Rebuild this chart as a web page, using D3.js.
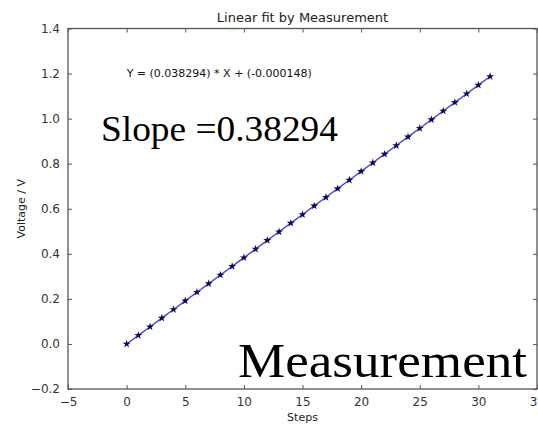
<!DOCTYPE html>
<html>
<head>
<meta charset="utf-8">
<script src="https://cdn.jsdelivr.net/npm/d3@7"></script>
<style>
  html, body { margin: 0; padding: 0; background: #fff; }
  svg { display: block; }
  .tick text { font-family: "DejaVu Sans", sans-serif; font-size: 12px; fill: #333; }
</style>
</head>
<body>
<svg id="chart" width="538" height="426"></svg>
<script>
// Measured voltage per step
const steps = [0, 1, 2, 3, 4, 5, 6, 7, 8, 9, 10, 11, 12, 13, 14, 15,
               16, 17, 18, 19, 20, 21, 22, 23, 24, 25, 26, 27, 28, 29, 30, 31];
const voltages = [-0.0001, 0.0381, 0.0764, 0.1147, 0.1530, 0.1913, 0.2296, 0.2679,
                  0.3062, 0.3445, 0.3828, 0.4211, 0.4594, 0.4977, 0.5360, 0.5743,
                  0.6126, 0.6509, 0.6891, 0.7274, 0.7657, 0.8040, 0.8423, 0.8806,
                  0.9189, 0.9572, 0.9955, 1.0338, 1.0721, 1.1104, 1.1487, 1.1870];
const xTicks = [-5, 0, 5, 10, 15, 20, 25, 30, 35];
const yTicks = [-0.2, 0.0, 0.2, 0.4, 0.6, 0.8, 1.0, 1.2, 1.4];
const title = "Linear fit by Measurement";
const equation = "Y = (0.038294) * X + (-0.000148)";
const slopeLabel = "Slope =0.38294";
const bigLabel = "Measurement";

const svg = d3.select("#chart");
const plotLeft = 68, plotRight = 537, plotTop = 28.5, plotBottom = 389;

const x = d3.scaleLinear().domain([-5, 35]).range([plotLeft, plotRight]);
const y = d3.scaleLinear().domain([-0.2, 1.4]).range([plotBottom, plotTop]);

const fmtY = v => d3.format(".1f")(v).replace("-", "\u2212");
const fmtX = v => String(v).replace("-", "\u2212");

// Axes with inward ticks on all four sides
const axisColor = "#555";
function styleAxis(g) {
  g.select(".domain").remove();
  g.selectAll(".tick line").attr("stroke", axisColor);
}
svg.append("g").attr("transform", `translate(0,${plotBottom})`)
  .call(d3.axisBottom(x).tickValues(xTicks).tickFormat(fmtX).tickSizeInner(-4).tickPadding(8))
  .call(styleAxis);
svg.append("g").attr("transform", `translate(0,${plotTop})`)
  .call(d3.axisTop(x).tickValues(xTicks).tickFormat("").tickSizeInner(-4))
  .call(styleAxis);
svg.append("g").attr("transform", `translate(${plotLeft},0)`)
  .call(d3.axisLeft(y).tickValues(yTicks).tickFormat(fmtY).tickSizeInner(-4).tickPadding(8))
  .call(styleAxis);
svg.append("g").attr("transform", `translate(${plotRight},0)`)
  .call(d3.axisRight(y).tickValues(yTicks).tickFormat("").tickSizeInner(-4))
  .call(styleAxis);

// Frame
svg.append("rect")
  .attr("x", plotLeft).attr("y", plotTop)
  .attr("width", plotRight - plotLeft).attr("height", plotBottom - plotTop)
  .attr("fill", "none").attr("stroke", axisColor).attr("stroke-width", 1.3);

// Fit line
const line = d3.line().x((d, i) => x(steps[i])).y(d => y(d));
svg.append("path")
  .datum(voltages)
  .attr("d", line)
  .attr("fill", "none")
  .attr("stroke", "#4848d0")
  .attr("stroke-width", 1.4);

// Measurement points as star markers
const star = d3.symbol().type(d3.symbolStar).size(20);
svg.append("g").selectAll("path")
  .data(voltages)
  .join("path")
  .attr("d", star)
  .attr("transform", (d, i) => `translate(${x(steps[i])},${y(d)})`)
  .attr("fill", "#0a0a50");

// Title and axis labels
svg.append("text")
  .attr("x", (plotLeft + plotRight) / 2).attr("y", 22)
  .attr("text-anchor", "middle")
  .attr("font-family", "DejaVu Sans, sans-serif").attr("font-size", 13)
  .attr("fill", "#222")
  .text(title);

svg.append("text")
  .attr("x", (plotLeft + plotRight) / 2).attr("y", 421)
  .attr("text-anchor", "middle")
  .attr("font-family", "DejaVu Sans, sans-serif").attr("font-size", 11)
  .attr("fill", "#222")
  .text("Steps");

svg.append("text")
  .attr("transform", `translate(25,${(plotTop + plotBottom) / 2}) rotate(-90)`)
  .attr("text-anchor", "middle")
  .attr("font-family", "DejaVu Sans, sans-serif").attr("font-size", 11)
  .attr("fill", "#222")
  .text("Voltage / V");

// Equation annotation placed at data coordinates (0, 1.2)
svg.append("text")
  .attr("x", x(0)).attr("y", y(1.2))
  .attr("dy", "0.35em")
  .attr("font-family", "DejaVu Sans, sans-serif").attr("font-size", 11)
  .attr("fill", "#111")
  .text(equation);

// Large serif labels
svg.append("text")
  .attr("x", 101).attr("y", 141)
  .attr("font-family", "Liberation Serif, serif").attr("font-size", 35)
  .attr("textLength", 237).attr("lengthAdjust", "spacingAndGlyphs")
  .attr("fill", "#000")
  .text(slopeLabel);

svg.append("text")
  .attr("x", 238).attr("y", 377)
  .attr("font-family", "Liberation Serif, serif").attr("font-size", 48)
  .attr("textLength", 289).attr("lengthAdjust", "spacingAndGlyphs")
  .attr("fill", "#000")
  .text(bigLabel);
</script>
</body>
</html>
